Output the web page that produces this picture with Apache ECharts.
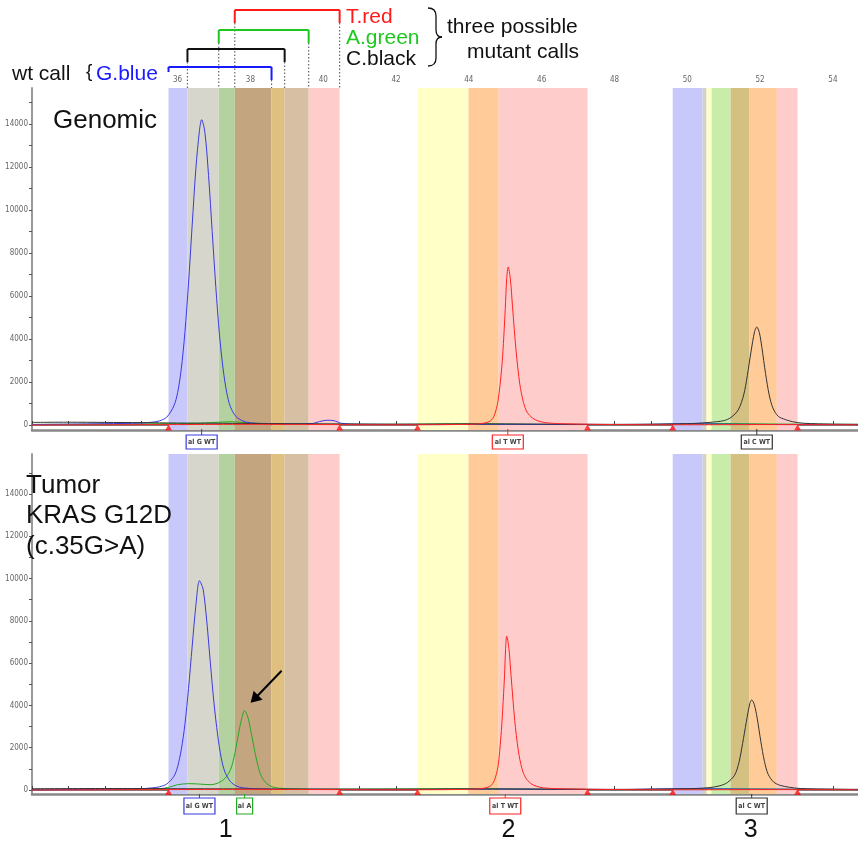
<!DOCTYPE html>
<html>
<head>
<meta charset="utf-8">
<script src="https://cdn.jsdelivr.net/npm/echarts@6/dist/echarts.min.js"></script>
<style>
  html, body { margin: 0; padding: 0; background: #fff; }
  #chart { width: 858px; height: 842px; }
</style>
</head>
<body>
<div id="chart"></div>
<script>
// ---------- data ----------
// fragment size axis (tick marks every 1, labels every 2)
const xTickValues = [32,33,34,35,36,37,38,39,40,41,42,43,44,45,46,47,48,49,50,51,52,53,54];
const xLabelValues = [36,38,40,42,44,46,48,50,52,54];
// signal intensity axis
const yTickValues = [0,1000,2000,3000,4000,5000,6000,7000,8000,9000,10000,11000,12000,13000,14000,15000];
const yLabelValues = [0,2000,4000,6000,8000,10000,12000,14000];

// allele bins of marker 1 (size range per dye)
const binG = [35.75, 38.58];
const binC = [36.27, 38.94];
const binA = [37.13, 39.60];
const binT = [37.57, 40.45];

// shaded bin segments (start, end) for the three markers
const bandRanges = [
  [35.75, 36.27], [36.27, 37.13], [37.13, 37.57], [37.57, 38.58], [38.58, 38.94], [38.94, 39.60], [39.60, 40.45],
  [42.59, 43.99], [43.99, 44.82], [44.82, 47.26],
  [49.60, 50.42], [50.42, 50.53], [50.53, 50.67], [50.67, 51.19], [51.19, 51.71], [51.71, 52.46], [52.46, 53.03]
];
// marker window edges
const edgeMarks = [35.75, 40.45, 42.59, 47.26, 49.60, 53.03];

// Genomic traces [size, intensity]
const genomicBlue = [[32,20],[33,40],[34,60],[35,90],[35.3,130],[35.5,190],[35.7,360],[35.9,900],[36.0,1500],[36.1,2600],[36.2,4300],[36.3,6600],[36.4,9300],[36.5,11900],[36.6,13700],[36.66,14200],[36.75,13600],[36.85,11600],[36.95,9000],[37.05,6400],[37.15,4200],[37.25,2600],[37.35,1500],[37.45,850],[37.6,400],[37.8,180],[38.0,100],[38.5,60],[39.0,50],[39.7,70],[39.9,160],[40.1,220],[40.3,200],[40.5,80],[41.0,30],[43,20],[45,30],[47,20],[49,30],[50,60],[51,40],[53,20],[54.69,20]];
const genomicGreen = [[32,30],[34,40],[35.5,60],[36.5,80],[37.0,120],[37.5,150],[38.0,90],[39,50],[40,40],[42,30],[44,60],[46,30],[48,20],[50,40],[51,70],[52,50],[53,40],[54.69,30]];
const genomicBlack = [[32,120],[33,130],[34,120],[35,110],[36,90],[37,80],[38,70],[39,60],[40,50],[42,40],[44,50],[46,40],[48,30],[50,60],[50.6,120],[51.0,200],[51.2,350],[51.4,700],[51.55,1400],[51.65,2300],[51.75,3400],[51.85,4350],[51.91,4560],[51.98,4300],[52.05,3600],[52.15,2400],[52.25,1400],[52.35,800],[52.5,400],[52.7,250],[52.9,150],[53.2,80],[54,40],[54.69,30]];
const genomicRed = [[32,0],[34,10],[36,20],[38,30],[40,20],[42,10],[44,30],[44.4,80],[44.6,200],[44.7,450],[44.8,1100],[44.9,2600],[44.95,3800],[45.0,5400],[45.04,6800],[45.08,7350],[45.14,6800],[45.2,5500],[45.3,3400],[45.4,1900],[45.5,1050],[45.6,600],[45.75,320],[45.9,190],[46.1,110],[46.5,60],[48,20],[50,10],[52,20],[54.69,10]];

// Tumor traces [size, intensity]
const tumorBlue = [[32,10],[34,30],[35,60],[35.3,100],[35.5,150],[35.7,280],[35.9,650],[36.0,1100],[36.1,1900],[36.2,3100],[36.3,4800],[36.4,6800],[36.5,8700],[36.6,9900],[36.7,9500],[36.8,8000],[36.9,6000],[37.0,4100],[37.1,2600],[37.2,1500],[37.3,850],[37.45,400],[37.6,200],[37.8,100],[38.5,40],[40,30],[42,20],[45,40],[48,20],[50,60],[52,40],[54.69,20]];
const tumorGreen = [[32,20],[34,30],[35.5,60],[35.8,150],[36.0,250],[36.3,300],[36.6,280],[36.9,250],[37.1,320],[37.3,550],[37.45,950],[37.55,1550],[37.65,2450],[37.75,3300],[37.84,3750],[37.92,3500],[38.0,2900],[38.1,2000],[38.2,1200],[38.3,650],[38.45,300],[38.6,150],[38.8,80],[40,40],[44,60],[48,20],[51,50],[54.69,20]];
const tumorBlack = [[32,60],[34,70],[36,60],[38,50],[40,40],[42,40],[44,50],[46,40],[48,30],[50,60],[50.6,110],[50.9,200],[51.1,350],[51.3,700],[51.42,1300],[51.52,2200],[51.62,3200],[51.72,4100],[51.77,4260],[51.84,4050],[51.92,3400],[52.02,2300],[52.12,1350],[52.22,750],[52.37,380],[52.55,220],[52.8,130],[53.1,70],[54,40],[54.69,30]];
const tumorRed = [[32,0],[34,10],[36,20],[38,30],[40,20],[42,10],[44,30],[44.4,80],[44.6,200],[44.7,450],[44.8,1100],[44.88,2500],[44.93,3800],[44.98,5400],[45.01,6700],[45.04,7280],[45.1,6700],[45.16,5400],[45.26,3300],[45.36,1850],[45.46,1000],[45.56,580],[45.7,310],[45.85,180],[46.05,100],[46.5,60],[48,20],[50,10],[52,20],[54.69,10]];

// allele call boxes: [size, text, dye]
const genomicCalls = [[36.66, 'al G WT', 'G'], [45.07, 'al T WT', 'T'], [51.91, 'al C WT', 'C']];
const tumorCalls = [[36.6, 'al G WT', 'G'], [37.84, 'al A', 'A'], [45.0, 'al T WT', 'T'], [51.77, 'al C WT', 'C']];
// marker numbers under the lower panel
const markerNames = ['1', '2', '3'];
const markerCenters = [37.32, 45.09, 51.74];

// ---------- styles ----------
const dyeColor = { G: '#3a3ae0', A: '#22aa22', C: '#333333', T: '#ff2222' };
const bandColors = ['#c8c8fa', '#d6d6cc', '#b4d2a0', '#c3a580', '#e0c080', '#d6bfa3', '#ffcccc',
                    '#ffffc8', '#ffcc99', '#ffcccc',
                    '#c8c8fa', '#d2d2c8', '#ffffc8', '#c8ecaa', '#d4c080', '#ffcc99', '#ffcccc'];
const FONT = '"Liberation Sans", Arial, sans-serif';
const NARROW = '"Liberation Sans Narrow", "DejaVu Sans Condensed", sans-serif';
const X_MIN = 32, X_MAX = 54.69;

const chart = echarts.init(document.getElementById('chart'), null, { renderer: 'canvas' });

function topAxis(gridIndex, showLabels) {
  return {
    type: 'value', gridIndex, position: 'top', min: X_MIN, max: X_MAX, interval: 1,
    axisLine: { show: true, lineStyle: { color: '#555', width: 1.5 } },
    axisTick: { show: true, customValues: xTickValues, length: 4, lineStyle: { color: '#444', width: 1 } },
    axisLabel: { show: showLabels, customValues: xLabelValues, fontSize: 8, fontFamily: NARROW, color: '#666', margin: 4,
                 formatter: v => String(v) },
    splitLine: { show: false }
  };
}
function bottomLine(gridIndex) {
  return {
    type: 'value', gridIndex, position: 'bottom', min: X_MIN, max: X_MAX,
    axisLine: { show: true, onZero: false, lineStyle: { color: '#888', width: 2.5 } },
    axisTick: { show: false }, axisLabel: { show: false }, splitLine: { show: false }
  };
}
function yAxis(gridIndex, min, max) {
  return {
    type: 'value', gridIndex, min, max,
    axisLine: { show: true, onZero: false, lineStyle: { color: '#999', width: 2 } },
    axisTick: { show: true, customValues: yTickValues, length: 3, lineStyle: { color: '#555', width: 1 } },
    axisLabel: { show: true, customValues: yLabelValues, fontSize: 8, fontFamily: NARROW, color: '#666', margin: 4,
                 formatter: v => String(v) },
    splitLine: { show: false }
  };
}
function bandArea() {
  return {
    silent: true,
    data: bandRanges.map((r, i) => [
      { xAxis: r[0], itemStyle: { color: bandColors[i], opacity: 1 } },
      { xAxis: r[1] }
    ])
  };
}
function trace(name, data, dye, xi, yi, extra) {
  return Object.assign({
    name, type: 'line', data, xAxisIndex: xi, yAxisIndex: yi,
    showSymbol: false, smooth: 0.3, animation: false, clip: false,
    lineStyle: { color: dyeColor[dye], width: 1 }, z: 3
  }, extra || {});
}
function edgeSeries(xi, yi, yVal) {
  return {
    type: 'scatter', xAxisIndex: xi, yAxisIndex: yi, animation: false, silent: true,
    data: edgeMarks.map(x => [x, yVal]), symbol: 'triangle', symbolSize: [7, 6],
    itemStyle: { color: '#ff1010' }, z: 5, clip: false
  };
}

chart.setOption({
  animation: false,
  backgroundColor: '#fff',
  grid: [
    { left: 32, right: 0, top: 88, height: 342 },
    { left: 32, right: 0, top: 454, height: 340 }
  ],
  xAxis: [topAxis(0, true), bottomLine(0), topAxis(1, false), bottomLine(1)],
  yAxis: [yAxis(0, -233, 15674), yAxis(1, -190, 15894)],
  series: [
    trace('Genomic green', genomicGreen, 'A', 0, 0, { markArea: bandArea() }),
    trace('Genomic blue', genomicBlue, 'G', 0, 0),
    trace('Genomic black', genomicBlack, 'C', 0, 0),
    trace('Genomic red', genomicRed, 'T', 0, 0),
    edgeSeries(0, 0, -120),
    trace('Tumor green', tumorGreen, 'A', 2, 1, { markArea: bandArea() }),
    trace('Tumor blue', tumorBlue, 'G', 2, 1),
    trace('Tumor black', tumorBlack, 'C', 2, 1),
    trace('Tumor red', tumorRed, 'T', 2, 1),
    edgeSeries(2, 1, -90)
  ]
});

// ---------- annotations positioned from the axes ----------
const px = (x, xi) => chart.convertToPixel({ xAxisIndex: xi }, x);
const py = (y, yi) => chart.convertToPixel({ yAxisIndex: yi }, y);
const g = [];
const axisTopY = py(15674, 0);

function text(t, x, y, color, size, align) {
  g.push({ type: 'text', silent: true, z: 10,
    style: { text: t, x, y, fill: color, fontSize: size, fontFamily: FONT, align: align || 'left', verticalAlign: 'middle' } });
}
function seg(x1, y1, x2, y2, color, w, dash) {
  g.push({ type: 'line', silent: true, z: 10,
    shape: { x1, y1, x2, y2 }, style: { stroke: color, lineWidth: w || 1.5, lineDash: dash || null } });
}
function curve(x1, y1, cx, cy, x2, y2) {
  g.push({ type: 'bezierCurve', silent: true, z: 10,
    shape: { x1, y1, x2, y2, cpx1: cx, cpy1: cy }, style: { stroke: '#111', lineWidth: 1.3, fill: null } });
}

// brackets over the first marker, one per possible call
function bracket(bin, yb, yEndL, yEndR, color, dotLeft) {
  const a = px(bin[0], 0), b = px(bin[1], 0);
  seg(a, yb, b, yb, color, 2);
  seg(a, yb, a, yEndL, color, 2);
  seg(b, yb, b, yEndR, color, 2);
  if (dotLeft) seg(a, yEndL, a, axisTopY, '#666', 1.2, [1.5, 2]);
  seg(b, yEndR, b, axisTopY, '#666', 1.2, [1.5, 2]);
}
bracket(binT, 10, 23, 23, '#ff1a1a', true);
bracket(binA, 30, 43, 43, '#1ec81e', true);
bracket(binC, 49, 62, 62, '#111', true);
bracket(binG, 67, 72, 80, '#1a1aff', false);

text('T.red', 346, 17, '#ff1a1a', 21);
text('A.green', 346, 38, '#1ec81e', 21);
text('C.black', 346, 59, '#111', 21);
text('wt call', 12, 74, '#111', 21);
text('{', 86, 72, '#111', 19);
text('G.blue', 96, 74, '#1a1aff', 21);
text('three possible', 447, 27, '#111', 21);
text('mutant calls', 467, 52, '#111', 21);

// right brace grouping the three mutant calls
curve(428, 8, 436, 8, 436, 16);
seg(436, 16, 436, 30, '#111', 1.3);
curve(436, 30, 436, 37, 442, 37);
curve(442, 37, 436, 37, 436, 44);
seg(436, 44, 436, 58, '#111', 1.3);
curve(436, 58, 436, 66, 428, 66);

// panel titles
text('Genomic', 53, 121, '#111', 26);
text('Tumor', 26, 486, '#111', 26);
text('KRAS G12D', 26, 516, '#111', 26);
text('(c.35G>A)', 26, 547, '#111', 26);

// allele call boxes below each panel
function callBox(call, xi, yi, boxTop, boxH) {
  const cx = px(call[0], xi);
  const w = call[1].length > 4 ? 31 : 16;
  const baseY = py(0, yi) + 4;
  const color = dyeColor[call[2]];
  seg(cx, baseY, cx, boxTop, color, 1);
  g.push({ type: 'rect', silent: true, z: 10,
    shape: { x: cx - w / 2, y: boxTop, width: w, height: boxH },
    style: { fill: '#fff', stroke: color, lineWidth: 1.2 } });
  g.push({ type: 'text', silent: true, z: 11,
    style: { text: call[1], x: cx, y: boxTop + boxH / 2, fill: '#444', fontSize: 7, fontWeight: 'bold',
             fontFamily: NARROW, align: 'center', verticalAlign: 'middle' } });
}
genomicCalls.forEach(c => callBox(c, 0, 0, 435, 14));
tumorCalls.forEach(c => callBox(c, 2, 1, 798, 16));

// marker numbers
markerNames.forEach((n, i) => text(n, px(markerCenters[i], 2), 830, '#111', 25, 'center'));

// arrow pointing at the mutant A peak
const peakX = px(37.84, 2), peakY = py(3750, 1);
const tipX = peakX + 6, tipY = peakY - 8;
const tailX = peakX + 37, tailY = peakY - 40;
seg(tailX, tailY, tipX + 6, tipY - 6, '#000', 2);
g.push({ type: 'polygon', silent: true, z: 10,
  shape: { points: [[tipX, tipY], [tipX + 3, tipY - 12], [tipX + 12, tipY - 3]] },
  style: { fill: '#000' } });

chart.setOption({ graphic: g });
</script>
</body>
</html>
